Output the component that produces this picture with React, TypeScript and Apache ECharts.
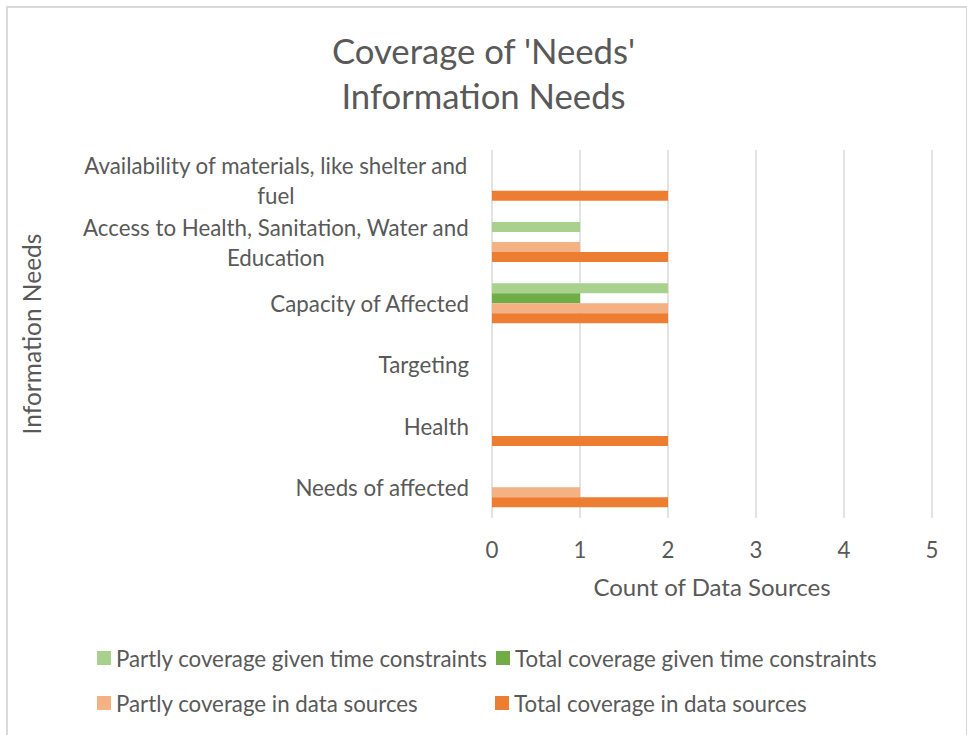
import React, { useEffect, useRef } from "react";
import * as echarts from "echarts";

const categories = [
  "Needs of affected",
  "Health",
  "Targeting",
  "Capacity of Affected",
  "Access to Health, Sanitation, Water and\nEducation",
  "Availability of materials, like shelter and\nfuel",
];
const seriesNames = [
  "Partly coverage given time constraints",
  "Total coverage given time constraints",
  "Partly coverage in data sources",
  "Total coverage in data sources",
];
const partlyTime = [0, 0, 0, 2, 1, 0];
const totalTime = [0, 0, 0, 1, 0, 0];
const partlyData = [1, 0, 0, 2, 1, 0];
const totalData = [2, 2, 0, 2, 2, 2];
const xTicks = [0, 1, 2, 3, 4, 5];

const colors = ["#A9D18E", "#70AD47", "#F4B183", "#ED7D31"];
const FONT = "Lato, 'Open Sans', sans-serif";
const TXT = "#595959";
const LABEL_SIZE = 22.3;

function measure(text: string, size: number): number {
  const c = document.createElement("canvas").getContext("2d");
  if (!c) return text.length * size * 0.5;
  c.font = `${size}px Lato`;
  return c.measureText(text).width;
}

export default function App() {
  const ref = useRef<HTMLDivElement>(null);
  useEffect(() => {
    if (!ref.current) return;
    const chart = echarts.init(ref.current, undefined, { renderer: "svg" });
    const data = [partlyTime, totalTime, partlyData, totalData];
    const legendPos = [
      { left: 92, top: 642 },
      { left: 491, top: 642 },
      { left: 92, top: 687 },
      { left: 490, top: 687 },
    ];
    chart.setOption({
      animation: false,
      textStyle: { fontFamily: FONT },
      title: {
        text: "Coverage of 'Needs'\nInformation Needs",
        left: "center",
        top: 23,
        textStyle: {
          fontFamily: FONT,
          fontSize: 34.7,
          fontWeight: "normal",
          color: TXT,
          lineHeight: 45,
        },
      },
      legend: seriesNames.map((n, i) => ({
        data: [n],
        left: legendPos[i].left,
        top: legendPos[i].top,
        icon: "rect",
        itemWidth: 14,
        itemHeight: 14,
        textStyle: { fontFamily: FONT, fontSize: LABEL_SIZE, color: TXT },
        selectedMode: false,
      })),
      grid: { left: 492, right: 35, top: 150, bottom: 217 },
      xAxis: {
        type: "value",
        min: 0,
        max: xTicks[xTicks.length - 1],
        interval: 1,
        name: "Count of Data Sources",
        nameLocation: "middle",
        nameGap: 56,
        nameTextStyle: { fontFamily: FONT, fontSize: 24, color: TXT },
        axisLine: { show: false },
        axisTick: { show: false },
        axisLabel: { fontFamily: FONT, fontSize: LABEL_SIZE, color: TXT, margin: 20 },
        splitLine: { show: true, lineStyle: { color: "#D9D9D9", width: 1.5 } },
      },
      yAxis: {
        type: "category",
        data: categories,
        name: "Information Needs",
        nameLocation: "middle",
        nameGap: 448,
        nameTextStyle: { fontFamily: FONT, fontSize: 24.5, color: TXT },
        axisLine: { show: false },
        axisTick: { show: false },
        splitLine: { show: false },
        axisLabel: {
          interval: 0,
          margin: 23,
          fontFamily: FONT,
          fontSize: LABEL_SIZE,
          color: TXT,
          formatter: (v: string) => {
            if (v.indexOf("\n") < 0) return v;
            return v
              .split("\n")
              .map((l) => `{c|${l}}`)
              .join("\n");
          },
          rich: {
            c: {
              width: Math.max(
                measure("Availability of materials, like shelter and", LABEL_SIZE),
                measure("Access to Health, Sanitation, Water and", LABEL_SIZE)
              ),
              align: "center",
              fontFamily: FONT,
              fontSize: LABEL_SIZE,
              color: TXT,
              lineHeight: 30,
            },
          },
        },
      },
      series: seriesNames.map((n, i) => ({
        name: n,
        type: "bar",
        data: data[i],
        barWidth: 10,
        barGap: "0%",
        itemStyle: { color: colors[i] },
      })),
    });
    return () => chart.dispose();
  }, []);
  return (
    <>
      <div
        ref={ref}
        style={{ position: "absolute", left: 0, top: 0, width: 967, height: 735 }}
      />
      <div
        style={{
          position: "absolute",
          left: 6,
          top: 6,
          width: 958,
          height: 760,
          borderLeft: "2px solid #D9D9D9",
          borderTop: "2px solid #D9D9D9",
          borderRight: "1px solid #D9D9D9",
          pointerEvents: "none",
        }}
      />
    </>
  );
}
